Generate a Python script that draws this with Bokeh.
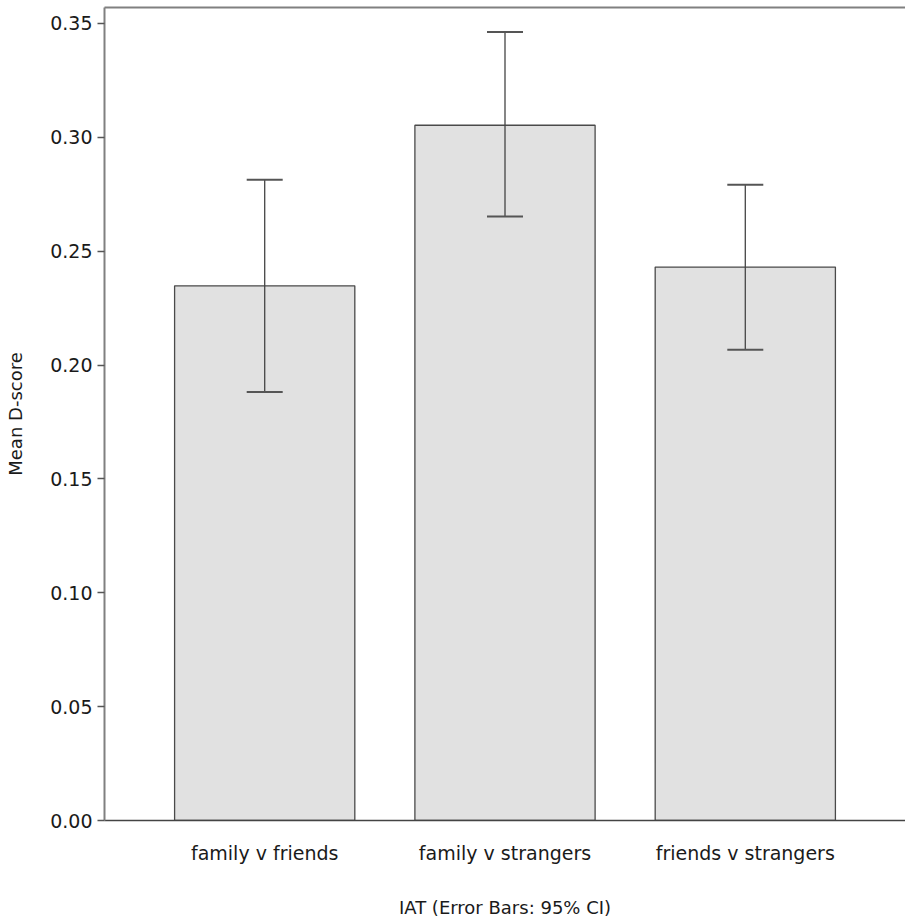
from bokeh.plotting import figure
from bokeh.models import (ColumnDataSource, FactorRange, Range1d, FixedTicker,
                          NumeralTickFormatter, LinearAxis, Whisker, TeeHead)
from bokeh.embed import file_html
from bokeh.resources import INLINE

categories = ["family v friends", "family v strangers", "friends v strangers"]
means = [0.2348, 0.3053, 0.2430]
ci_upper = [0.2814, 0.3462, 0.2792]
ci_lower = [0.1882, 0.2652, 0.2067]
y_ticks = [0.00, 0.05, 0.10, 0.15, 0.20, 0.25, 0.30, 0.35]

FONT = "DejaVu Sans"

src = ColumnDataSource(dict(cat=categories, mean=means, upper=ci_upper, lower=ci_lower))

p = figure(width=905, height=920, output_backend="svg", toolbar_location=None,
           x_range=FactorRange(*categories, range_padding=0.1667, range_padding_units="absolute"),
           y_range=Range1d(0, 0.357),
           min_border_left=104, min_border_right=0, min_border_top=7, min_border_bottom=0)
p.outline_line_color = None
p.xgrid.visible = False
p.ygrid.visible = False
p.background_fill_color = "white"
p.border_fill_color = "white"

p.vbar(x="cat", top="mean", width=0.75, source=src, fill_color="#e1e1e1",
       line_color="#4a4a4a", line_width=1.3)

wh = Whisker(base="cat", upper="upper", lower="lower", source=src,
             line_color="#444444", line_width=1.3, level="overlay",
             upper_head=TeeHead(size=36, line_color="#555555", line_width=2),
             lower_head=TeeHead(size=36, line_color="#555555", line_width=2))
p.add_layout(wh)

# y axis
ya = p.yaxis[0]
ya.ticker = FixedTicker(ticks=y_ticks)
ya.formatter = NumeralTickFormatter(format="0.00")
ya.axis_line_color = "#808080"
ya.axis_line_width = 2
ya.major_tick_line_color = "#555555"
ya.major_tick_line_width = 1.5
ya.major_tick_out = 7
ya.major_tick_in = 0
ya.minor_tick_line_color = None
ya.major_label_standoff = 5
ya.major_label_text_font = FONT
ya.major_label_text_font_size = "19px"
ya.major_label_text_color = "#1a1a1a"
ya.axis_label = "Mean D-score"
ya.axis_label_text_font = FONT
ya.axis_label_text_font_size = "18px"
ya.axis_label_text_font_style = "normal"
ya.axis_label_text_color = "#1a1a1a"
ya.axis_label_standoff = 21

# x axis
xa = p.xaxis[0]
xa.axis_line_color = "#444444"
xa.axis_line_width = 1.6
xa.major_tick_line_color = None
xa.minor_tick_line_color = None
xa.major_label_standoff = 15
xa.major_label_text_font = FONT
xa.major_label_text_font_size = "19px"
xa.major_label_text_color = "#1a1a1a"
xa.axis_label = "IAT (Error Bars: 95% CI)"
xa.axis_label_text_font = FONT
xa.axis_label_text_font_size = "18px"
xa.axis_label_text_font_style = "normal"
xa.axis_label_text_color = "#1a1a1a"
xa.axis_label_standoff = 30

# top border line
top = LinearAxis(ticker=FixedTicker(ticks=[]), major_tick_line_color=None,
                 minor_tick_line_color=None, major_label_standoff=0,
                 major_tick_out=0, major_tick_in=0, minor_tick_out=0, minor_tick_in=0,
                 axis_line_color="#808080", axis_line_width=2)
p.add_layout(top, "above")

open("out.html", "w").write(file_html(p, INLINE))
